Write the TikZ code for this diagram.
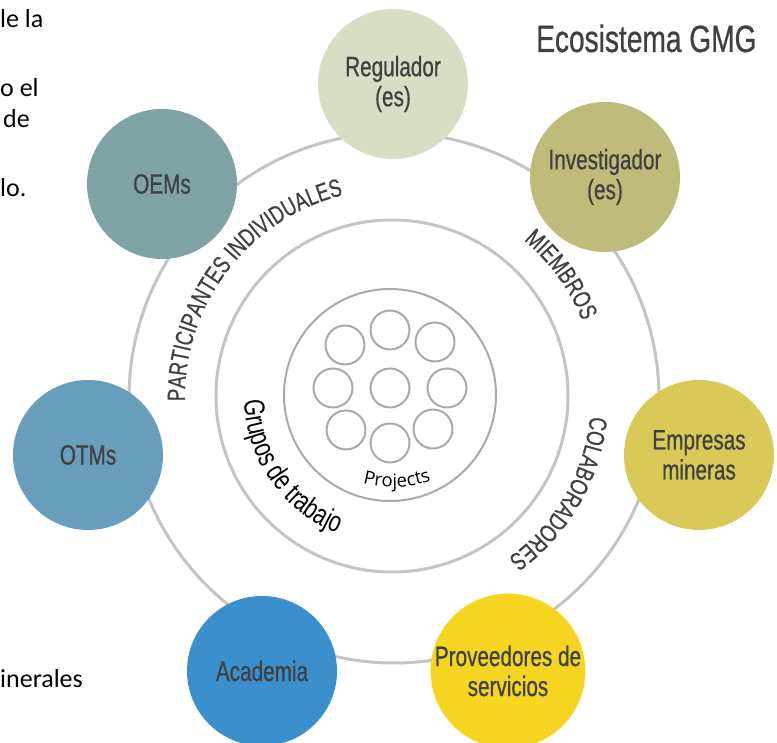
\documentclass[tikz,border=0pt]{standalone}
\usepackage{fontspec}
\setmainfont{Liberation Sans}
\newfontfamily\condfont[FakeStretch=0.74, FakeBold=0.6]{Liberation Sans}
\newfontfamily\condlight[FakeStretch=0.74]{Liberation Sans}
\newfontfamily\bodyfont{Carlito}
\newfontfamily\projfont{Open Sans}
\usetikzlibrary{decorations.text}
\definecolor{ringgray}{HTML}{C4C4C4}
\definecolor{innergray}{HTML}{A9A9A9}
\definecolor{txtgray}{HTML}{404040}
\definecolor{cReg}{HTML}{D6DFC4}
\definecolor{cInv}{HTML}{BFBC7B}
\definecolor{cOEM}{HTML}{7FA3A4}
\definecolor{cOTM}{HTML}{689EBC}
\definecolor{cEmp}{HTML}{D9C957}
\definecolor{cAca}{HTML}{3B8FCC}
\definecolor{cPro}{HTML}{F5D51F}
\begin{document}
\begin{tikzpicture}[x=1pt,y=1pt,
  ring/.style={circle, draw=ringgray, line width=3pt, inner sep=0pt},
  innerring/.style={circle, draw=innergray, line width=2pt, inner sep=0pt},
  proj/.style={circle, draw=innergray, line width=2pt, inner sep=0pt, minimum size=39pt},
  member/.style={circle, minimum size=150pt, inner sep=0pt, text=txtgray,
    font=\condfont\fontsize{28}{30}\selectfont, align=center},
  body/.style={anchor=base west, inner sep=0pt, font=\bodyfont\fontsize{26}{30}\selectfont, text=black}
]
\useasboundingbox (0,0) rectangle (777,743);

% rings
\node[ring, minimum size=530pt] (outer) at (394,345) {};
\node[ring, minimum size=352pt] (middle) at (392,347) {};
\node[innerring, minimum size=212pt] (inner) at (390,348) {};

% project circles
\node[proj] (p1) at (390,413) {};
\node[proj] (p2) at (345,398) {};
\node[proj] (p3) at (435,401) {};
\node[proj] (p4) at (333,355) {};
\node[proj] (p5) at (390,355) {};
\node[proj] (p6) at (447,355) {};
\node[proj] (p7) at (346,313) {};
\node[proj] (p8) at (390,300) {};
\node[proj] (p9) at (433,314) {};

% member circles
\node[member, fill=cReg] (reg) at (393,659) {Regulador\\(es)};
\node[member, fill=cInv] (inv) at (605,566) {Investigador\\(es)};
\node[member, fill=cOEM] (oem) at (162,559) {OEMs};
\node[member, fill=cOTM] (otm) at (88,288) {OTMs};
\node[member, fill=cEmp] (emp) at (699,288) {Empresas\\mineras};
\node[member, fill=cAca] (aca) at (262,72) {Academia};
\node[member, fill=cPro] (pro) at (508,72) {Proveedores de\\servicios};

% title
\node[anchor=base west, inner sep=0pt, text=txtgray,
  font=\condfont\fontsize{38}{38}\selectfont] (title) at (536,691) {Ecosistema GMG};

% cropped side text
\node[body] (t1) at (0,715) {le la};
\node[body] (t2) at (0,646) {o el};
\node[body] (t3) at (3,615) {de};
\node[body] (t4) at (0,546) {lo.};
\node[body] (t5) at (0,55) {inerales};

% curved texts
\coordinate (C) at (393,346);
\path[decorate, decoration={text along path, text align=center, text color=txtgray,
  text={|\condfont\fontsize{25}{25}\selectfont|PARTICIPANTES INDIVIDUALES}}]
  (C) ++(230:208) arc[start angle=230, end angle=55, radius=208];
\path[decorate, decoration={text along path, text align=center, text color=txtgray,
  text={|\condfont\fontsize{25}{25}\selectfont|MIEMBROS}}]
  (C) ++(90:204) arc[start angle=90, end angle=-18, radius=204];
\path[decorate, decoration={text along path, text align=center, text color=txtgray,
  text={|\condfont\fontsize{25}{25}\selectfont|COLABORADORES}}]
  (C) ++(30:198) arc[start angle=30, end angle=-90, radius=198];
\path[decorate, decoration={text along path, text align=center, text color=black,
  text={|\condlight\fontsize{29}{29}\selectfont|Grupos de trabajo}}]
  (middle.center) ++(148:148) arc[start angle=148, end angle=282, radius=148];
\coordinate (PC) at (393,376);
\path[decorate, decoration={text along path, text align=center, text color=black,
  text={|\projfont\fontsize{18.5}{18.5}\selectfont|Projects}}]
  (PC) ++(202:120) arc[start angle=202, end angle=342, radius=120];
\end{tikzpicture}
\end{document}
